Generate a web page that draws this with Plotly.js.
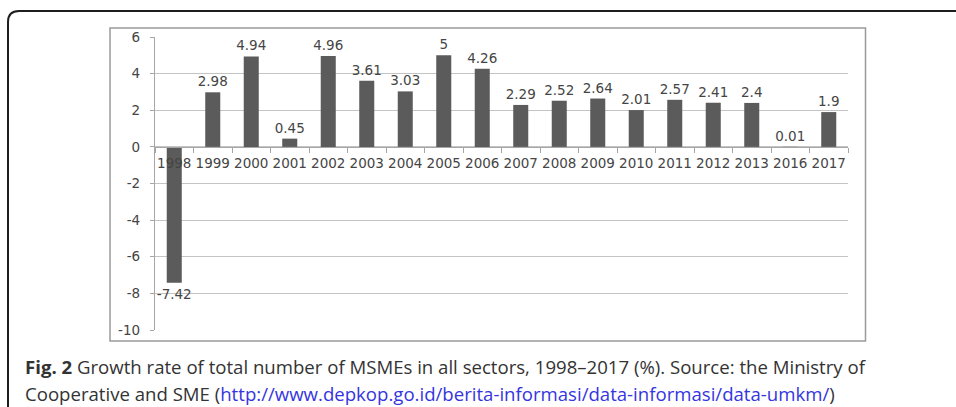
<!DOCTYPE html>
<html>
<head>
<meta charset="utf-8">
<script src="https://cdn.plot.ly/plotly-3.0.1.min.js"></script>
<style>
html,body{margin:0;padding:0;background:#fff;}
#chart{width:956px;height:407px;}
</style>
</head>
<body>
<div id="chart"></div>
<script>
// Data
const years = ['1998','1999','2000','2001','2002','2003','2004','2005','2006','2007','2008','2009','2010','2011','2012','2013','2016','2017'];
const growth = [-7.42, 2.98, 4.94, 0.45, 4.96, 3.61, 3.03, 5, 4.26, 2.29, 2.52, 2.64, 2.01, 2.57, 2.41, 2.4, 0.01, 1.9];
const yTicks = [-10, -8, -6, -4, -2, 0, 2, 4, 6];

const captionLine1 = '<b>Fig. 2</b> Growth rate of total number of MSMEs in all sectors, 1998\u20132017 (%). Source: the Ministry of';
const captionLine2Start = 'Cooperative and SME (';
const captionLink = 'http://www.depkop.go.id/berita-informasi/data-informasi/data-umkm/';
const captionLine2End = ')';

// plot area in pixels
const FW = 956, FH = 407;
const L = 155, R = 848, T = 37, B = 330;
const px = x => (x - L) / (R - L);
const py = y => (B - y) / (B - T);

const r = 11;
const framePath = 'M ' + px(8) + ',' + py(FH + 10) +
  ' L ' + px(8) + ',' + py(11 + r) +
  ' Q ' + px(8) + ',' + py(11) + ' ' + px(8 + r) + ',' + py(11) +
  ' L ' + px(FW + 10) + ',' + py(11);

const FONT = 'DejaVu Sans';
const FS = 13.5;
const TXT = '#454545';

const trace = {
  type: 'bar',
  x: years,
  y: growth,
  marker: {color: '#5b5b5b', line: {width: 0}},
  text: growth.map(v => String(v)),
  textposition: 'outside',
  constraintext: 'none',
  cliponaxis: false,
  textfont: {family: FONT, size: FS, color: TXT},
  hoverinfo: 'skip'
};

const layout = {
  width: FW, height: FH,
  margin: {l: L, r: FW - R, t: T, b: FH - B, pad: 0},
  paper_bgcolor: '#ffffff',
  plot_bgcolor: 'rgba(0,0,0,0)',
  showlegend: false,
  bargap: 0.61,
  font: {family: FONT, color: TXT},
  xaxis: {
    type: 'category',
    anchor: 'free',
    position: 10 / 16,
    showgrid: false,
    zeroline: false,
    showline: true,
    linecolor: '#a6a6a6',
    linewidth: 1.2,
    ticks: 'outside',
    tickson: 'boundaries',
    ticklen: 5,
    tickcolor: '#a6a6a6',
    tickangle: 0,
    ticklabelstandoff: 4,
    tickfont: {family: FONT, size: FS, color: TXT},
    fixedrange: true
  },
  yaxis: {
    domain: [0, 1],
    range: [-10, 6],
    tickvals: yTicks,
    ticktext: yTicks.map(String),
    showgrid: true,
    gridcolor: '#c4c4c4',
    gridwidth: 1.2,
    zeroline: false,
    showline: true,
    linecolor: '#a6a6a6',
    linewidth: 1.2,
    ticks: 'outside',
    ticklen: 4,
    tickcolor: '#a6a6a6',
    ticklabelstandoff: 7,
    tickfont: {family: FONT, size: FS, color: TXT},
    fixedrange: true
  },
  shapes: [
    {type: 'rect', xref: 'paper', yref: 'paper',
     x0: px(110), x1: px(865.5), y0: py(341), y1: py(28),
     line: {color: '#9a9a9a', width: 1.5}, layer: 'below'},
    {type: 'path', xref: 'paper', yref: 'paper', path: framePath,
     line: {color: '#1e1e1e', width: 2}}
  ],
  annotations: [
    {xref: 'paper', yref: 'paper', x: px(23), y: py(366), xanchor: 'left', yanchor: 'middle',
     showarrow: false, align: 'left', text: captionLine1,
     font: {family: 'Open Sans', size: 18.6, color: '#333333'}},
    {xref: 'paper', yref: 'paper', x: px(23), y: py(393), xanchor: 'left', yanchor: 'middle',
     showarrow: false, align: 'left',
     text: captionLine2Start + '<span style="color:#3535e0">' + captionLink + '</span>' + captionLine2End,
     font: {family: 'Open Sans', size: 18.6, color: '#333333'}}
  ]
};

Plotly.newPlot('chart', [trace], layout, {displayModeBar: false, staticPlot: true});
</script>
</body>
</html>
